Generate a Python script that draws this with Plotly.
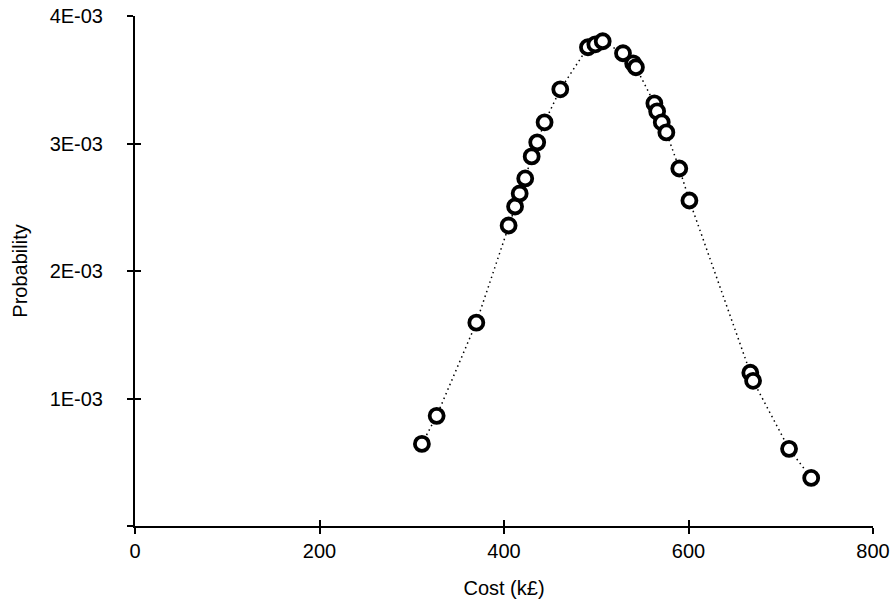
import plotly.graph_objects as go

cost = [311, 327, 370, 405, 412, 417, 423, 430, 436, 444, 461, 491, 499, 507,
        529, 540, 543, 563, 566, 571, 576, 590, 601, 667, 670, 709, 733]
prob = [0.644e-3, 0.864e-3, 1.595e-3, 2.357e-3, 2.506e-3, 2.608e-3, 2.726e-3,
        2.899e-3, 3.009e-3, 3.166e-3, 3.425e-3, 3.755e-3, 3.778e-3, 3.802e-3,
        3.708e-3, 3.629e-3, 3.598e-3, 3.315e-3, 3.252e-3, 3.166e-3, 3.087e-3,
        2.804e-3, 2.553e-3, 1.202e-3, 1.139e-3, 0.605e-3, 0.377e-3]

x_ticks = [0, 200, 400, 600, 800]
y_ticks = [0, 1e-3, 2e-3, 3e-3, 4e-3]
y_tick_text = ["", "1E-03", "2E-03", "3E-03", "4E-03"]

FONT = "Liberation Sans, Arial, Helvetica, sans-serif"

fig = go.Figure()
fig.add_trace(go.Scatter(
    x=cost, y=prob, mode="lines+markers",
    line=dict(color="black", width=1.5, dash="1.5px,3.5px"),
    marker=dict(symbol="circle", size=14, color="white",
                line=dict(color="black", width=3.8)),
    showlegend=False, hoverinfo="skip"))
# helper trace for the inward half of the crossing ticks
fig.add_trace(go.Scatter(x=[0], y=[0], xaxis="x2", yaxis="y2", mode="markers",
                         marker=dict(opacity=0), showlegend=False, hoverinfo="skip"))

axis_common = dict(showgrid=False, zeroline=False, linecolor="black", linewidth=2,
                   ticks="outside", ticklen=6, tickwidth=2, tickcolor="black",
                   automargin=False, ticklabeloverflow="allow",
                   tickfont=dict(family=FONT, size=20, color="black"))

fig.update_layout(
    width=893, height=604,
    margin=dict(l=135, r=20, t=16, b=78),
    paper_bgcolor="white", plot_bgcolor="white",
    font=dict(family=FONT, size=20, color="black"),
    xaxis=dict(range=[0, 800], tickvals=x_ticks, showline=True,
               ticklabelstandoff=0,
               title=dict(text="Cost (k£)", standoff=20,
                          font=dict(family=FONT, size=20, color="black")),
               **axis_common),
    yaxis=dict(range=[0, 0.004], tickvals=y_ticks, ticktext=y_tick_text,
               showline=True, ticklabelstandoff=20,
               title=dict(text="Probability", standoff=17,
                          font=dict(family=FONT, size=20, color="black")),
               **axis_common),
    xaxis2=dict(range=[0, 800], tickvals=x_ticks, overlaying="x", anchor="y2",
                showline=False, showgrid=False, zeroline=False, showticklabels=False,
                automargin=False,
                ticks="inside", ticklen=6, tickwidth=2, tickcolor="black"),
    yaxis2=dict(range=[0, 0.004], tickvals=y_ticks, overlaying="y", anchor="x2",
                showline=False, showgrid=False, zeroline=False, showticklabels=False,
                automargin=False,
                ticks="inside", ticklen=6, tickwidth=2, tickcolor="black"),
)

fig.write_html("out.html",
               config={"displayModeBar": False, "staticPlot": True},
               post_script="document.body.style.margin='0';"
                           "document.body.style.overflow='hidden';")
